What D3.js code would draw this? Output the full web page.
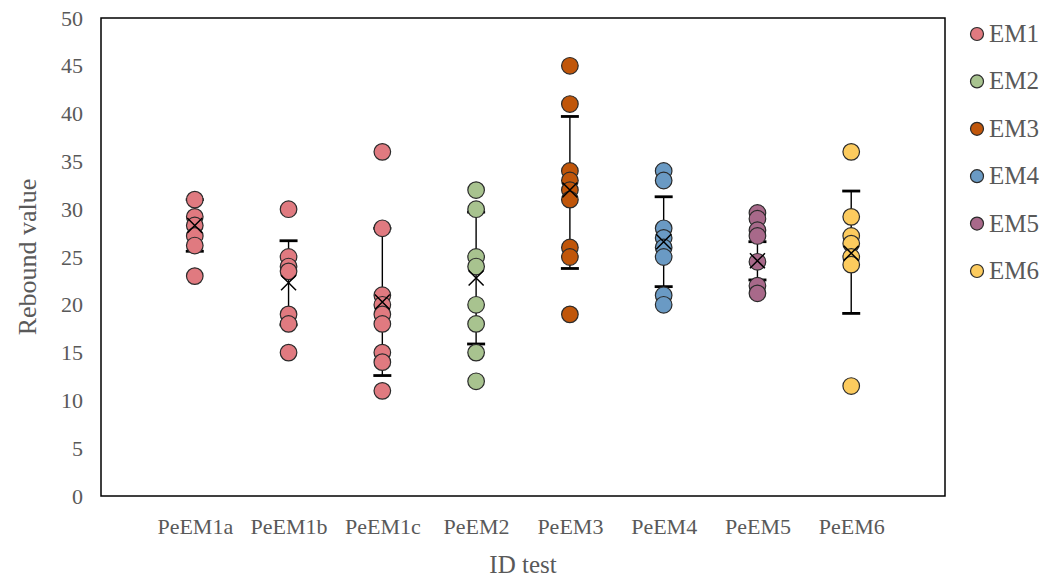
<!DOCTYPE html>
<html><head><meta charset="utf-8">
<script src="https://cdn.jsdelivr.net/npm/d3@7"></script>
<style>body{margin:0;background:#fff}text{font-family:"Liberation Serif","Times New Roman",serif;fill:#595959}</style>
</head><body><svg id="c" width="1047" height="581"></svg>
<script>
const categories = ["PeEM1a","PeEM1b","PeEM1c","PeEM2","PeEM3","PeEM4","PeEM5","PeEM6"];
const groupOf = ["EM1","EM1","EM1","EM2","EM3","EM4","EM5","EM6"];
const legendNames = ["EM1","EM2","EM3","EM4","EM5","EM6"];
const legendColors = ["#E07A80","#A8C38F","#C0560A","#6A9AC4","#A8698A","#FCCB5E"];
const valsPeEM1a = [31, 29.2, 28.3, 27.2, 26.2, 23];
const valsPeEM1b = [30, 25, 24, 23.5, 19, 18, 15];
const valsPeEM1c = [36, 28, 21, 20, 19, 18, 15, 14, 11];
const valsPeEM2 = [32, 30, 25, 24, 20, 18, 15, 12];
const valsPeEM3 = [45, 41, 34, 33, 32, 31, 26, 25, 19];
const valsPeEM4 = [34, 33, 28, 27, 26, 25, 21, 20];
const valsPeEM5 = [29.6, 29, 27.8, 27.2, 24.5, 22, 21.2];
const valsPeEM6 = [36, 29.2, 27.2, 26.4, 25, 24.2, 11.5];
const means = [28.3, 22.3, 20.3, 22.8, 32, 26.6, 24.6, 25.4];
const errLow = [25.6, 17.9, 12.6, 15.9, 23.8, 21.9, 22.6, 19.1];
const errHigh = [31.0, 26.7, 28.0, 29.7, 39.7, 31.3, 26.6, 31.9];
const yTicks = [0,5,10,15,20,25,30,35,40,45,50];

const allVals = [valsPeEM1a, valsPeEM1b, valsPeEM1c, valsPeEM2, valsPeEM3, valsPeEM4, valsPeEM5, valsPeEM6];
const color = d3.scaleOrdinal().domain(legendNames).range(legendColors);

const svg = d3.select("#c");
const L = 101, R = 945, T = 18, B = 496;
const x = d3.scaleLinear().domain([0, 9]).range([L, R]);
const y = d3.scaleLinear().domain([0, 50]).range([B, T]);

// y axis labels
const yAxis = d3.axisLeft(y).tickValues(yTicks).tickSize(0).tickPadding(18);
const ga = svg.append("g").attr("transform", `translate(${L},0)`).call(yAxis);
ga.select(".domain").remove();
ga.selectAll("text").attr("font-size", 22).attr("fill", "#595959")
  .style("font-family", '"Liberation Serif",serif');

// x labels
const xAxis = d3.axisBottom(x).tickValues(d3.range(1, 9)).tickFormat(i => categories[i - 1]).tickSize(0).tickPadding(22);
const gx = svg.append("g").attr("transform", `translate(0,${B})`).call(xAxis);
gx.select(".domain").remove();
gx.selectAll("text").attr("font-size", 22).attr("fill", "#595959")
  .style("font-family", '"Liberation Serif",serif');

// frame
svg.append("rect").attr("x", L).attr("y", T).attr("width", R - L).attr("height", B - T)
  .attr("fill", "none").attr("stroke", "#000").attr("stroke-width", 1.5);

// axis titles
svg.append("text").attr("x", (L + R) / 2).attr("y", 573).attr("text-anchor", "middle")
  .attr("font-size", 25).text("ID test");
svg.append("text").attr("transform", `translate(36,${(T + B) / 2}) rotate(-90)`).attr("text-anchor", "middle")
  .attr("font-size", 26).text("Rebound value");

// error bars
categories.forEach((c, i) => {
  const cx = x(i + 1);
  const g = svg.append("g");
  g.append("line").attr("x1", cx).attr("x2", cx).attr("y1", y(errLow[i])).attr("y2", y(errHigh[i]))
    .attr("stroke", "#000").attr("stroke-width", 1.4);
  [errLow[i], errHigh[i]].forEach(v => {
    g.append("line").attr("x1", cx - 9).attr("x2", cx + 9).attr("y1", y(v)).attr("y2", y(v))
      .attr("stroke", "#000").attr("stroke-width", 2.8);
  });
});

// points
categories.forEach((c, i) => {
  const cx = x(i + 1);
  svg.append("g").selectAll("circle").data(allVals[i]).join("circle")
    .attr("cx", cx).attr("cy", d => y(d)).attr("r", 8.3)
    .attr("fill", color(groupOf[i])).attr("stroke", "#2b2b2b").attr("stroke-width", 1.2);
});

// mean markers (X)
categories.forEach((c, i) => {
  const cx = x(i + 1), cy = y(means[i]), s = 7.5;
  svg.append("path").attr("d", `M${cx - s},${cy - s}L${cx + s},${cy + s}M${cx - s},${cy + s}L${cx + s},${cy - s}`)
    .attr("stroke", "#000").attr("stroke-width", 1.5).attr("fill", "none");
});

// legend
const lg = svg.append("g");
legendNames.forEach((n, i) => {
  const ly = 34 + i * 47.4;
  lg.append("circle").attr("cx", 977).attr("cy", ly).attr("r", 6.5)
    .attr("fill", color(n)).attr("stroke", "#2b2b2b").attr("stroke-width", 1.2);
  lg.append("text").attr("x", 989).attr("y", ly + 8).attr("font-size", 25).text(n);
});
</script></body></html>
